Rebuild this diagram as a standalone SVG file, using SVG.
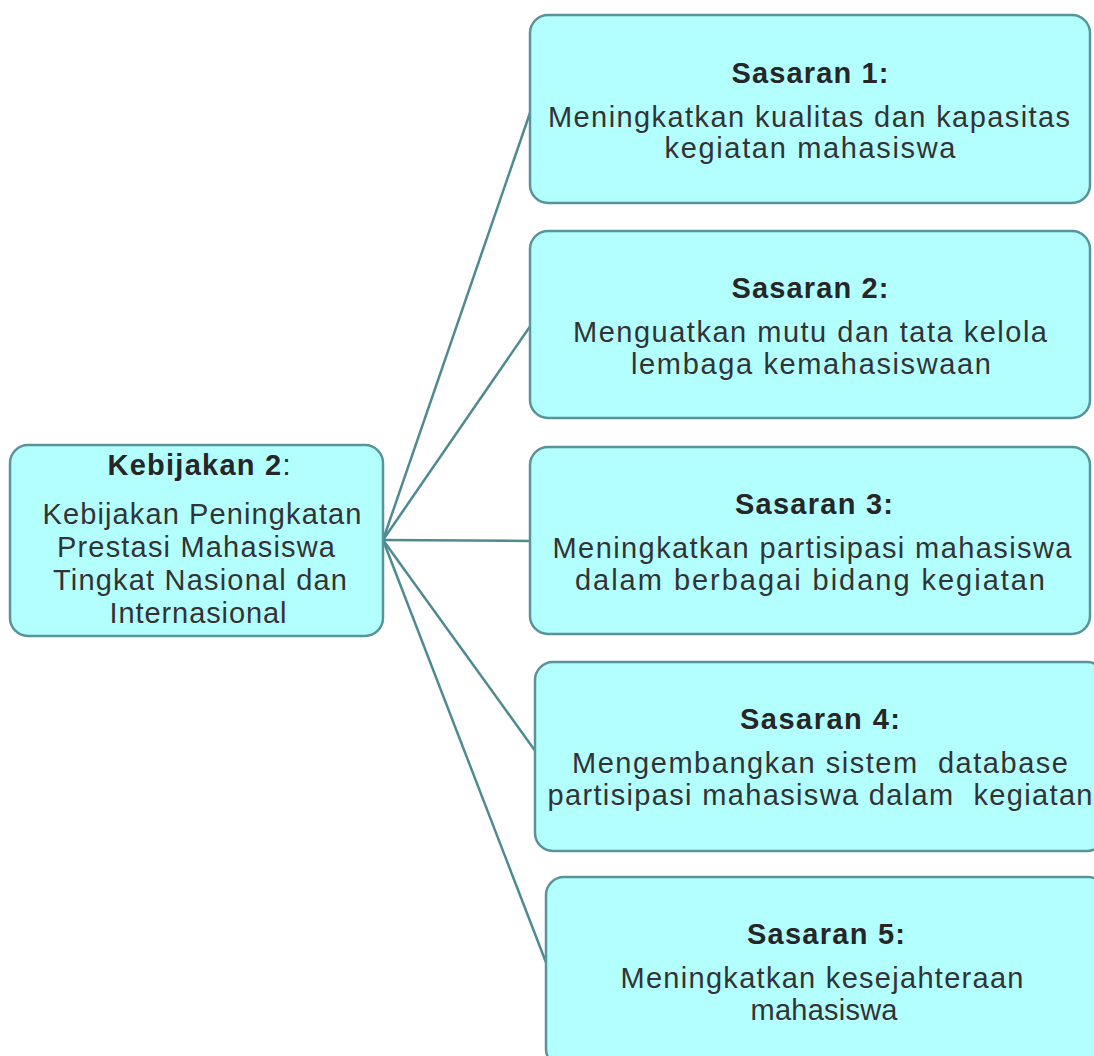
<svg xmlns="http://www.w3.org/2000/svg" width="1094" height="1056" viewBox="0 0 1094 1056">
  <style>
    .box { fill: #b3ffff; stroke: #5a949b; stroke-width: 2.5; }
    .link { stroke: #4f8a91; stroke-width: 2.5; fill: none; }
    .title { font-family: "Liberation Sans", Arial, sans-serif; font-size: 29px; font-weight: bold; fill: #262626; text-anchor: middle; }
    .body { font-family: "Liberation Sans", Arial, sans-serif; font-size: 29px; fill: #333333; text-anchor: middle; }
  </style>
  <rect width="1094" height="1056" fill="#ffffff"/>

  <!-- connectors fanning out from the policy box -->
  <g id="connectors">
    <line class="link" x1="383" y1="540" x2="531" y2="110"/>
    <line class="link" x1="383" y1="540" x2="531" y2="325"/>
    <line class="link" x1="383" y1="540" x2="531" y2="541"/>
    <line class="link" x1="383" y1="540" x2="536" y2="752"/>
    <line class="link" x1="383" y1="540" x2="547" y2="965"/>
  </g>

  <!-- policy -->
  <g id="kebijakan2">
    <rect class="box" x="10" y="445" width="373" height="191" rx="18"/>
    <text class="title" x="199" y="475" textLength="183" lengthAdjust="spacing">Kebijakan 2<tspan font-weight="normal">:</tspan></text>
    <text class="body" x="202" y="524" textLength="319" lengthAdjust="spacing">Kebijakan Peningkatan</text>
    <text class="body" x="196" y="557" textLength="278" lengthAdjust="spacing">Prestasi Mahasiswa</text>
    <text class="body" x="200" y="590" textLength="294" lengthAdjust="spacing">Tingkat Nasional dan</text>
    <text class="body" x="198" y="623" textLength="177" lengthAdjust="spacing">Internasional</text>
  </g>

  <!-- targets -->
  <g id="sasaran1">
    <rect class="box" x="530" y="15" width="560" height="188" rx="18"/>
    <text class="title" x="810" y="83" textLength="157" lengthAdjust="spacing">Sasaran 1:</text>
    <text class="body" x="809" y="127" textLength="522" lengthAdjust="spacing">Meningkatkan kualitas dan kapasitas</text>
    <text class="body" x="810" y="158" textLength="291" lengthAdjust="spacing">kegiatan mahasiswa</text>
  </g>

  <g id="sasaran2">
    <rect class="box" x="530" y="231" width="560" height="187" rx="18"/>
    <text class="title" x="810" y="298" textLength="157" lengthAdjust="spacing">Sasaran 2:</text>
    <text class="body" x="810" y="342" textLength="474" lengthAdjust="spacing">Menguatkan mutu dan tata kelola</text>
    <text class="body" x="811" y="374" textLength="360" lengthAdjust="spacing">lembaga kemahasiswaan</text>
  </g>

  <g id="sasaran3">
    <rect class="box" x="530" y="447" width="560" height="187" rx="18"/>
    <text class="title" x="814" y="514" textLength="158" lengthAdjust="spacing">Sasaran 3:</text>
    <text class="body" x="812" y="558" textLength="519" lengthAdjust="spacing">Meningkatkan partisipasi mahasiswa</text>
    <text class="body" x="810" y="590" textLength="470" lengthAdjust="spacing">dalam berbagai bidang kegiatan</text>
  </g>

  <g id="sasaran4">
    <rect class="box" x="535" y="662" width="570" height="189" rx="18"/>
    <text class="title" x="820" y="729" textLength="160" lengthAdjust="spacing">Sasaran 4:</text>
    <text class="body" x="820" y="773" textLength="496" lengthAdjust="spacing" xml:space="preserve">Mengembangkan sistem  database</text>
    <text class="body" x="820" y="805" textLength="545" lengthAdjust="spacing" xml:space="preserve">partisipasi mahasiswa dalam  kegiatan</text>
  </g>

  <g id="sasaran5">
    <rect class="box" x="546" y="877" width="560" height="190" rx="18"/>
    <text class="title" x="826" y="944" textLength="158" lengthAdjust="spacing">Sasaran 5:</text>
    <text class="body" x="822" y="988" textLength="403" lengthAdjust="spacing">Meningkatkan kesejahteraan</text>
    <text class="body" x="824" y="1020" textLength="147" lengthAdjust="spacing">mahasiswa</text>
  </g>
</svg>
